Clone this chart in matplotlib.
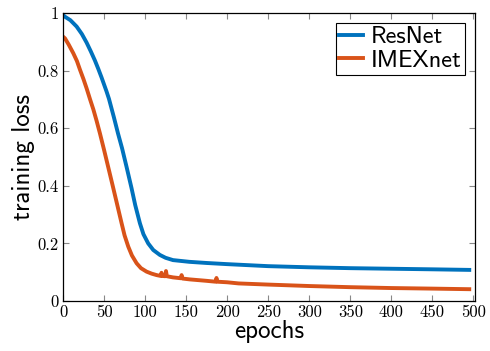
import matplotlib
matplotlib.use("Agg")
import matplotlib.pyplot as plt

resnet_epochs = [0, 2.4, 9, 16.6, 23, 28.8, 34, 38.9, 43, 47, 53, 56, 62, 67, 72, 77.5, 83.5, 88, 93.7, 98, 103.8, 110, 118, 125, 134, 154, 175, 200, 250, 300, 350, 400, 450, 495]
resnet_loss = [0.993, 0.987, 0.975, 0.953, 0.927, 0.897, 0.866, 0.835, 0.806, 0.776, 0.728, 0.702, 0.638, 0.582, 0.53, 0.465, 0.392, 0.333, 0.27, 0.232, 0.20, 0.177, 0.16, 0.15, 0.142, 0.136, 0.132, 0.128, 0.121, 0.117, 0.114, 0.112, 0.110, 0.108]

imex_epochs = [0, 2.4, 7, 12.6, 17, 20.7, 25, 28.8, 33, 37, 41, 45, 50, 55, 61, 66, 71.4, 75, 79.5, 84, 89.7, 95, 101.8, 108, 114, 119, 120, 121, 124.5, 125.5, 126.5, 134, 143.5, 144.5, 145.5, 154.5, 175, 186, 187, 188, 200, 214, 250, 300, 350, 400, 450, 495]
imex_loss = [0.918, 0.912, 0.89, 0.860, 0.833, 0.803, 0.77, 0.738, 0.70, 0.665, 0.625, 0.582, 0.525, 0.466, 0.395, 0.335, 0.27, 0.228, 0.189, 0.158, 0.131, 0.114, 0.102, 0.095, 0.090, 0.087, 0.098, 0.087, 0.086, 0.104, 0.086, 0.082, 0.079, 0.090, 0.078, 0.075, 0.070, 0.067, 0.080, 0.067, 0.065, 0.061, 0.057, 0.052, 0.048, 0.045, 0.043, 0.041]

x_ticks = [0, 50, 100, 150, 200, 250, 300, 350, 400, 450, 500]
y_ticks = [0, 0.2, 0.4, 0.6, 0.8, 1]
y_tick_labels = ["0", "0.2", "0.4", "0.6", "0.8", "1"]

fig = plt.figure(figsize=(4.9, 3.51), dpi=100)
ax = fig.add_axes([63/490, 1-301/351, (475-63)/490, (301-13)/351])

ax.plot(resnet_epochs, resnet_loss, color="#0072BD", lw=2.8, label="ResNet", solid_joinstyle="round")
ax.plot(imex_epochs, imex_loss, color="#D95319", lw=2.8, label="IMEXnet", solid_joinstyle="round")

ax.set_xlim(0, 502)
ax.set_ylim(0, 1)
ax.set_xticks(x_ticks)
ax.set_xticklabels([str(t) for t in x_ticks], fontfamily="cmr10", fontsize=12)
ax.set_yticks(y_ticks)
ax.set_yticklabels(y_tick_labels, fontfamily="cmr10", fontsize=12)
ax.tick_params(direction="in", top=True, right=True, length=4, width=0.8, color="#888888", pad=3)
for s in ax.spines.values():
    s.set_linewidth(0.9)

ax.set_xlabel("epochs", fontfamily="cmss10", fontsize=18, labelpad=0)
ax.set_ylabel("training loss", fontfamily="cmss10", fontsize=18, labelpad=2)

leg = ax.legend(loc="upper right", prop={"family": "cmss10", "size": 17.5}, frameon=True, fancybox=False,
                edgecolor="black", framealpha=1, handlelength=1.0, handletextpad=0.3,
                borderpad=0.15, labelspacing=0.05, borderaxespad=0.4)
leg.get_frame().set_linewidth(0.8)

fig.savefig("out.png", dpi=100)
